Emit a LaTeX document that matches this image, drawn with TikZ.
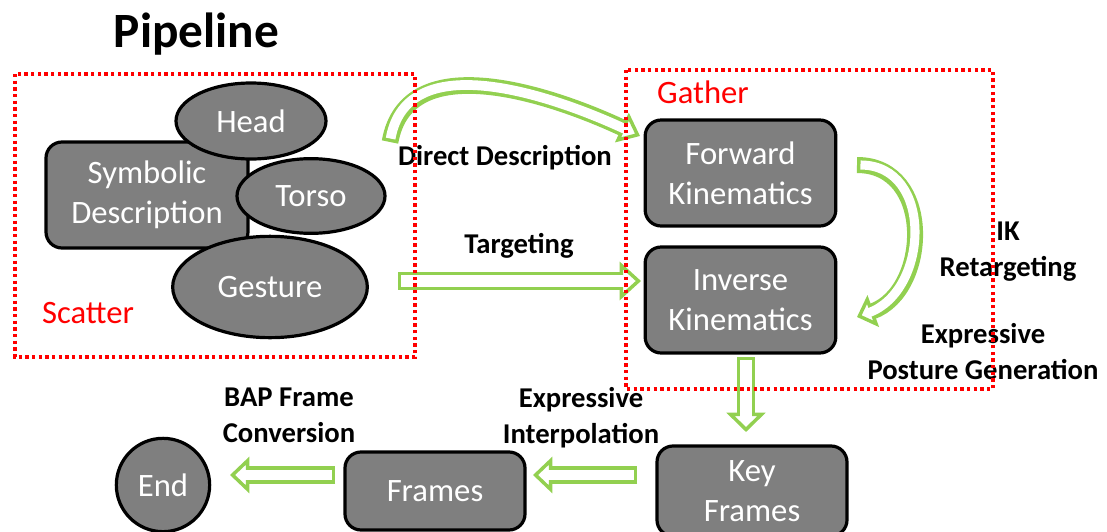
\documentclass[tikz,border=0pt]{standalone}
\usepackage{fontspec}
\setmainfont{Carlito}
\usetikzlibrary{shapes.geometric, arrows.meta}
\definecolor{agreen}{RGB}{146,208,80}
\definecolor{boxgray}{RGB}{127,127,127}
% #1 outer body width, #2 inner body width, #3 head width, #4 head length, #5 inner shorten at head, #6 path
\newcommand{\hollowarrow}[6]{%
  \draw[agreen, line width=#1, -{Triangle[length=#4, width=#3, fill=white, line width=2.6pt]}] #6;
  \draw[white, line width=#2, shorten <=2.6pt, shorten >=#5] #6;
}
\begin{document}
\begin{tikzpicture}[x=0.75pt,y=0.75pt,
  box/.style={draw=black, line width=2.4pt, fill=boxgray, rounded corners=12pt, text=white,
    font=\fontsize{24.5}{30}\selectfont, align=center, inner sep=0pt},
  ell/.style={ellipse, draw=black, line width=2.4pt, fill=boxgray, text=white,
    font=\fontsize{24.5}{30}\selectfont, inner sep=0pt},
  lbl/.style={font=\bfseries\fontsize{21.5}{27}\selectfont, align=center, inner sep=0pt},
  region/.style={draw=red, line width=2.6pt, dash pattern=on 2.6pt off 2.4pt},
  regionlbl/.style={text=red, font=\fontsize{24.5}{30}\selectfont, inner sep=0pt, anchor=base},
]
\useasboundingbox (0,0) rectangle (1107,-532);

% title
\node[font=\bfseries\fontsize{37}{44}\selectfont, anchor=base, inner sep=0pt] (title) at (196.5,-47) {Pipeline};

% scatter nodes
\node[box, minimum width=151.5pt, minimum height=79.5pt] (sym) at (147,-195) {Symbolic\\Description};
\node[ell, minimum width=112.5pt, minimum height=57pt] (head) at (251,-121) {Head};
\node[ell, minimum width=111pt, minimum height=56pt] (torso) at (311,-196) {Torso};
\node[ell, minimum width=146pt, minimum height=76pt] (gesture) at (270,-287) {Gesture};

% gather nodes
\node[box, minimum width=143pt, minimum height=79.5pt] (fk) at (740.5,-173) {Forward\\Kinematics};
\node[box, minimum width=143pt, minimum height=79.5pt] (ik) at (740.5,-300) {Inverse\\Kinematics};

% bottom row
\node[box, minimum width=142.5pt, minimum height=67.5pt] (key) at (752,-491) {Key\\Frames};
\node[box, minimum width=135pt, minimum height=58.5pt] (frames) at (435,-491) {Frames};
\node[circle, draw=black, line width=2.4pt, fill=boxgray, text=white,
  font=\fontsize{24.5}{30}\selectfont, minimum size=70pt, inner sep=0pt] (end) at (163,-485) {End};

% arrow end points
\coordinate (dd1) at (390,-142); \coordinate (dd2) at (640,-136);
\coordinate (tg1) at (398,-281); \coordinate (tg2) at (641,-281);
\coordinate (rt1) at (857,-165); \coordinate (rt2) at (857,-317);
\coordinate (kf1) at (746,-357); \coordinate (kf2) at (746,-432);
\coordinate (fr1) at (637,-475); \coordinate (fr2) at (533,-475);
\coordinate (en1) at (335,-475); \coordinate (en2) at (230,-475);

% hollow arrows
\hollowarrow{12.5pt}{7.3pt}{24pt}{15pt}{11.5pt}{(dd1) to[out=80, in=155] (dd2)}
\hollowarrow{14pt}{8.8pt}{28.5pt}{16pt}{12.5pt}{(tg1) -- (tg2)}
\hollowarrow{12pt}{6.8pt}{25pt}{13pt}{9.5pt}{(rt1) to[out=0, in=20, looseness=1.3] (rt2)}
\hollowarrow{13.5pt}{8.3pt}{29pt}{14.5pt}{11pt}{(kf1) -- (kf2)}
\hollowarrow{13pt}{7.8pt}{27pt}{14.5pt}{11pt}{(fr1) -- (fr2)}
\hollowarrow{13pt}{7.8pt}{27pt}{14.5pt}{11pt}{(en1) -- (en2)}

% labels
\node[lbl, anchor=base] (lDD) at (505,-165) {Direct Description};
\node[lbl, anchor=base] (lTG) at (519,-253) {Targeting};
\node[lbl] (lIK) at (1008,-252) {IK\\Retargeting};
\node[lbl] (lEP) at (983,-352) {Expressive\\Posture Generation};
\node[lbl] (lBAP) at (289,-415) {BAP Frame\\Conversion};
\node[lbl] (lEI) at (581,-418) {Expressive\\Interpolation};

% regions
\node[regionlbl] (sc) at (88,-323) {Scatter};
\node[regionlbl] (ga) at (703,-103) {Gather};
\draw[region] (15,-74) rectangle (415,-357);
\draw[region] (626,-70) rectangle (993,-389);
\end{tikzpicture}
\end{document}
